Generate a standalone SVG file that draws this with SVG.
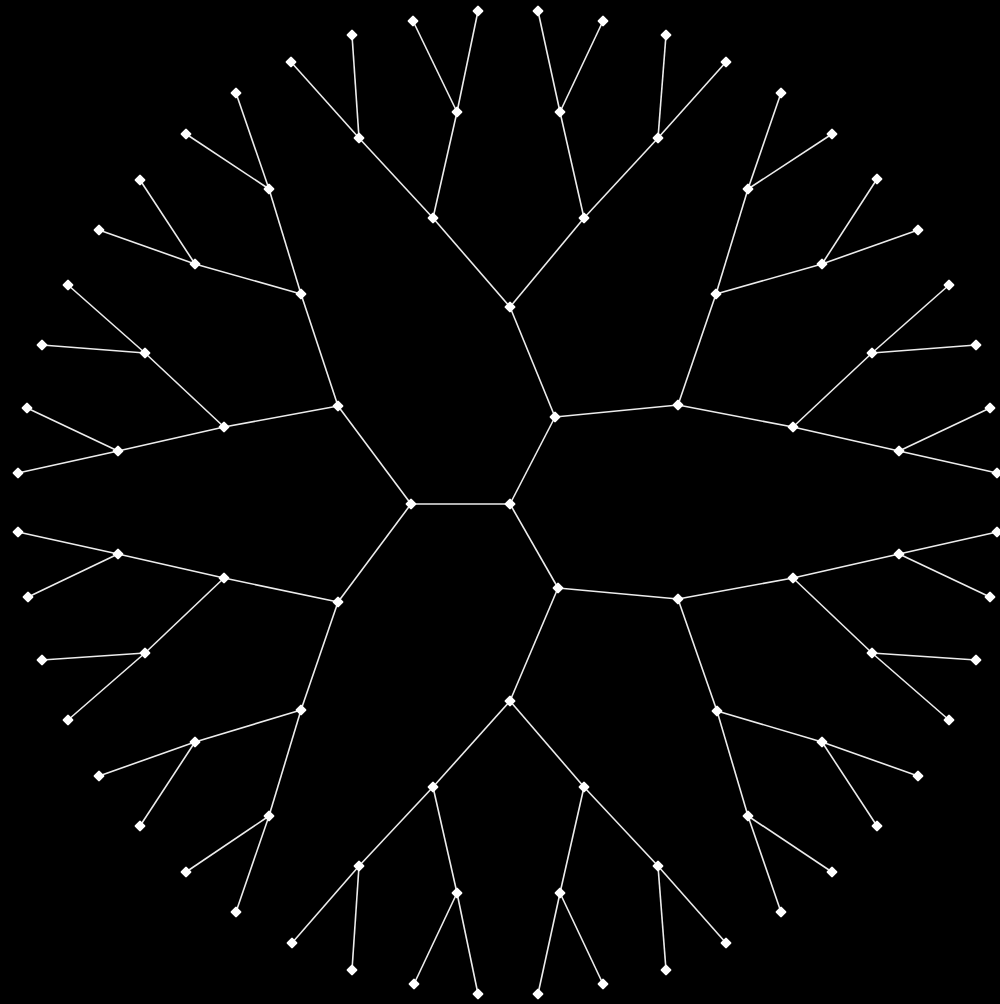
<svg xmlns="http://www.w3.org/2000/svg" xmlns:xlink="http://www.w3.org/1999/xlink" width="1000" height="1004" viewBox="0 0 1000 1004">
<style>
.e{stroke:#ececec;stroke-width:1.6;fill:none}
.d{fill:#fff;stroke:#fff;stroke-width:2.2;stroke-linejoin:round}
</style>
<defs>
<path id="d" class="d" d="M0,-4.3 L4.3,0 L0,4.3 L-4.3,0 Z"/>
</defs>
<rect width="1000" height="1004" fill="#000"/>
<g id="connectors">
<line class="e" x1="411" y1="504" x2="510" y2="504"/>
<line class="e" x1="510" y1="504" x2="555" y2="417"/>
<line class="e" x1="510" y1="504" x2="558" y2="588"/>
<line class="e" x1="411" y1="504" x2="338" y2="406"/>
<line class="e" x1="411" y1="504" x2="338" y2="602"/>
<line class="e" x1="555" y1="417" x2="510" y2="307"/>
<line class="e" x1="555" y1="417" x2="678" y2="405"/>
<line class="e" x1="558" y1="588" x2="510" y2="701"/>
<line class="e" x1="558" y1="588" x2="678" y2="599"/>
<line class="e" x1="338" y1="406" x2="301" y2="294"/>
<line class="e" x1="338" y1="406" x2="224" y2="427"/>
<line class="e" x1="338" y1="602" x2="301" y2="710"/>
<line class="e" x1="338" y1="602" x2="224" y2="578"/>
<line class="e" x1="510" y1="307" x2="433" y2="218"/>
<line class="e" x1="510" y1="307" x2="584" y2="218"/>
<line class="e" x1="678" y1="405" x2="716" y2="294"/>
<line class="e" x1="678" y1="405" x2="793" y2="427"/>
<line class="e" x1="510" y1="701" x2="433" y2="787"/>
<line class="e" x1="510" y1="701" x2="584" y2="787"/>
<line class="e" x1="678" y1="599" x2="717" y2="711"/>
<line class="e" x1="678" y1="599" x2="793" y2="578"/>
<line class="e" x1="301" y1="294" x2="269" y2="189"/>
<line class="e" x1="301" y1="294" x2="195" y2="264"/>
<line class="e" x1="224" y1="427" x2="145" y2="353"/>
<line class="e" x1="224" y1="427" x2="118" y2="451"/>
<line class="e" x1="301" y1="710" x2="269" y2="816"/>
<line class="e" x1="301" y1="710" x2="195" y2="742"/>
<line class="e" x1="224" y1="578" x2="145" y2="653"/>
<line class="e" x1="224" y1="578" x2="118" y2="554"/>
<line class="e" x1="269" y1="189" x2="236" y2="93"/>
<line class="e" x1="269" y1="189" x2="186" y2="134"/>
<line class="e" x1="195" y1="264" x2="140" y2="180"/>
<line class="e" x1="195" y1="264" x2="99" y2="230"/>
<line class="e" x1="145" y1="353" x2="68" y2="285"/>
<line class="e" x1="145" y1="353" x2="42" y2="345"/>
<line class="e" x1="118" y1="451" x2="27" y2="408"/>
<line class="e" x1="118" y1="451" x2="18" y2="473"/>
<line class="e" x1="269" y1="816" x2="236" y2="912"/>
<line class="e" x1="269" y1="816" x2="186" y2="872"/>
<line class="e" x1="195" y1="742" x2="140" y2="826"/>
<line class="e" x1="195" y1="742" x2="99" y2="776"/>
<line class="e" x1="145" y1="653" x2="68" y2="720"/>
<line class="e" x1="145" y1="653" x2="42" y2="660"/>
<line class="e" x1="118" y1="554" x2="28" y2="597"/>
<line class="e" x1="118" y1="554" x2="18" y2="532"/>
<line class="e" x1="433" y1="218" x2="359" y2="138"/>
<line class="e" x1="433" y1="218" x2="457" y2="112"/>
<line class="e" x1="584" y1="218" x2="560" y2="112"/>
<line class="e" x1="584" y1="218" x2="658" y2="138"/>
<line class="e" x1="716" y1="294" x2="748" y2="189"/>
<line class="e" x1="716" y1="294" x2="822" y2="264"/>
<line class="e" x1="793" y1="427" x2="872" y2="353"/>
<line class="e" x1="793" y1="427" x2="899" y2="451"/>
<line class="e" x1="433" y1="787" x2="359" y2="866"/>
<line class="e" x1="433" y1="787" x2="457" y2="893"/>
<line class="e" x1="584" y1="787" x2="560" y2="893"/>
<line class="e" x1="584" y1="787" x2="658" y2="866"/>
<line class="e" x1="717" y1="711" x2="748" y2="816"/>
<line class="e" x1="717" y1="711" x2="822" y2="742"/>
<line class="e" x1="793" y1="578" x2="872" y2="653"/>
<line class="e" x1="793" y1="578" x2="899" y2="554"/>
<line class="e" x1="359" y1="138" x2="291" y2="62"/>
<line class="e" x1="359" y1="138" x2="352" y2="35"/>
<line class="e" x1="457" y1="112" x2="413" y2="21"/>
<line class="e" x1="457" y1="112" x2="478" y2="11"/>
<line class="e" x1="560" y1="112" x2="538" y2="11"/>
<line class="e" x1="560" y1="112" x2="603" y2="21"/>
<line class="e" x1="658" y1="138" x2="666" y2="35"/>
<line class="e" x1="658" y1="138" x2="726" y2="62"/>
<line class="e" x1="748" y1="189" x2="781" y2="93"/>
<line class="e" x1="748" y1="189" x2="832" y2="134"/>
<line class="e" x1="822" y1="264" x2="877" y2="179"/>
<line class="e" x1="822" y1="264" x2="918" y2="230"/>
<line class="e" x1="872" y1="353" x2="949" y2="285"/>
<line class="e" x1="872" y1="353" x2="976" y2="345"/>
<line class="e" x1="899" y1="451" x2="990" y2="408"/>
<line class="e" x1="899" y1="451" x2="997" y2="473"/>
<line class="e" x1="359" y1="866" x2="292" y2="943"/>
<line class="e" x1="359" y1="866" x2="352" y2="970"/>
<line class="e" x1="457" y1="893" x2="414" y2="984"/>
<line class="e" x1="457" y1="893" x2="478" y2="994"/>
<line class="e" x1="560" y1="893" x2="538" y2="994"/>
<line class="e" x1="560" y1="893" x2="603" y2="984"/>
<line class="e" x1="658" y1="866" x2="666" y2="970"/>
<line class="e" x1="658" y1="866" x2="726" y2="943"/>
<line class="e" x1="748" y1="816" x2="781" y2="912"/>
<line class="e" x1="748" y1="816" x2="832" y2="872"/>
<line class="e" x1="822" y1="742" x2="877" y2="826"/>
<line class="e" x1="822" y1="742" x2="918" y2="776"/>
<line class="e" x1="872" y1="653" x2="949" y2="720"/>
<line class="e" x1="872" y1="653" x2="976" y2="660"/>
<line class="e" x1="899" y1="554" x2="990" y2="597"/>
<line class="e" x1="899" y1="554" x2="997" y2="532"/>
</g>
<g id="nodes">
<g id="n-a"><use href="#d" x="411" y="504"/></g>
<g id="n-b"><use href="#d" x="510" y="504"/></g>
<g id="n-b1"><use href="#d" x="555" y="417"/></g>
<g id="n-b2"><use href="#d" x="558" y="588"/></g>
<g id="n-a1"><use href="#d" x="338" y="406"/></g>
<g id="n-a2"><use href="#d" x="338" y="602"/></g>
<g id="n-b11"><use href="#d" x="510" y="307"/></g>
<g id="n-b12"><use href="#d" x="678" y="405"/></g>
<g id="n-b21"><use href="#d" x="510" y="701"/></g>
<g id="n-b22"><use href="#d" x="678" y="599"/></g>
<g id="n-a11"><use href="#d" x="301" y="294"/></g>
<g id="n-a12"><use href="#d" x="224" y="427"/></g>
<g id="n-a21"><use href="#d" x="301" y="710"/></g>
<g id="n-a22"><use href="#d" x="224" y="578"/></g>
<g id="n-b111"><use href="#d" x="433" y="218"/></g>
<g id="n-b112"><use href="#d" x="584" y="218"/></g>
<g id="n-b121"><use href="#d" x="716" y="294"/></g>
<g id="n-b122"><use href="#d" x="793" y="427"/></g>
<g id="n-b211"><use href="#d" x="433" y="787"/></g>
<g id="n-b212"><use href="#d" x="584" y="787"/></g>
<g id="n-b221"><use href="#d" x="717" y="711"/></g>
<g id="n-b222"><use href="#d" x="793" y="578"/></g>
<g id="n-a111"><use href="#d" x="269" y="189"/></g>
<g id="n-a112"><use href="#d" x="195" y="264"/></g>
<g id="n-a121"><use href="#d" x="145" y="353"/></g>
<g id="n-a122"><use href="#d" x="118" y="451"/></g>
<g id="n-a211"><use href="#d" x="269" y="816"/></g>
<g id="n-a212"><use href="#d" x="195" y="742"/></g>
<g id="n-a221"><use href="#d" x="145" y="653"/></g>
<g id="n-a222"><use href="#d" x="118" y="554"/></g>
<g id="n-a1111"><use href="#d" x="236" y="93"/></g>
<g id="n-a1112"><use href="#d" x="186" y="134"/></g>
<g id="n-a1121"><use href="#d" x="140" y="180"/></g>
<g id="n-a1122"><use href="#d" x="99" y="230"/></g>
<g id="n-a1211"><use href="#d" x="68" y="285"/></g>
<g id="n-a1212"><use href="#d" x="42" y="345"/></g>
<g id="n-a1221"><use href="#d" x="27" y="408"/></g>
<g id="n-a1222"><use href="#d" x="18" y="473"/></g>
<g id="n-a2111"><use href="#d" x="236" y="912"/></g>
<g id="n-a2112"><use href="#d" x="186" y="872"/></g>
<g id="n-a2121"><use href="#d" x="140" y="826"/></g>
<g id="n-a2122"><use href="#d" x="99" y="776"/></g>
<g id="n-a2211"><use href="#d" x="68" y="720"/></g>
<g id="n-a2212"><use href="#d" x="42" y="660"/></g>
<g id="n-a2221"><use href="#d" x="28" y="597"/></g>
<g id="n-a2222"><use href="#d" x="18" y="532"/></g>
<g id="n-b1111"><use href="#d" x="359" y="138"/></g>
<g id="n-b1112"><use href="#d" x="457" y="112"/></g>
<g id="n-b1121"><use href="#d" x="560" y="112"/></g>
<g id="n-b1122"><use href="#d" x="658" y="138"/></g>
<g id="n-b1211"><use href="#d" x="748" y="189"/></g>
<g id="n-b1212"><use href="#d" x="822" y="264"/></g>
<g id="n-b1221"><use href="#d" x="872" y="353"/></g>
<g id="n-b1222"><use href="#d" x="899" y="451"/></g>
<g id="n-b2111"><use href="#d" x="359" y="866"/></g>
<g id="n-b2112"><use href="#d" x="457" y="893"/></g>
<g id="n-b2121"><use href="#d" x="560" y="893"/></g>
<g id="n-b2122"><use href="#d" x="658" y="866"/></g>
<g id="n-b2211"><use href="#d" x="748" y="816"/></g>
<g id="n-b2212"><use href="#d" x="822" y="742"/></g>
<g id="n-b2221"><use href="#d" x="872" y="653"/></g>
<g id="n-b2222"><use href="#d" x="899" y="554"/></g>
<g id="n-l01"><use href="#d" x="291" y="62"/></g>
<g id="n-l02"><use href="#d" x="352" y="35"/></g>
<g id="n-l03"><use href="#d" x="413" y="21"/></g>
<g id="n-l04"><use href="#d" x="478" y="11"/></g>
<g id="n-l05"><use href="#d" x="538" y="11"/></g>
<g id="n-l06"><use href="#d" x="603" y="21"/></g>
<g id="n-l07"><use href="#d" x="666" y="35"/></g>
<g id="n-l08"><use href="#d" x="726" y="62"/></g>
<g id="n-l09"><use href="#d" x="781" y="93"/></g>
<g id="n-l10"><use href="#d" x="832" y="134"/></g>
<g id="n-l11"><use href="#d" x="877" y="179"/></g>
<g id="n-l12"><use href="#d" x="918" y="230"/></g>
<g id="n-l13"><use href="#d" x="949" y="285"/></g>
<g id="n-l14"><use href="#d" x="976" y="345"/></g>
<g id="n-l15"><use href="#d" x="990" y="408"/></g>
<g id="n-l16"><use href="#d" x="997" y="473"/></g>
<g id="n-l17"><use href="#d" x="292" y="943"/></g>
<g id="n-l18"><use href="#d" x="352" y="970"/></g>
<g id="n-l19"><use href="#d" x="414" y="984"/></g>
<g id="n-l20"><use href="#d" x="478" y="994"/></g>
<g id="n-l21"><use href="#d" x="538" y="994"/></g>
<g id="n-l22"><use href="#d" x="603" y="984"/></g>
<g id="n-l23"><use href="#d" x="666" y="970"/></g>
<g id="n-l24"><use href="#d" x="726" y="943"/></g>
<g id="n-l25"><use href="#d" x="781" y="912"/></g>
<g id="n-l26"><use href="#d" x="832" y="872"/></g>
<g id="n-l27"><use href="#d" x="877" y="826"/></g>
<g id="n-l28"><use href="#d" x="918" y="776"/></g>
<g id="n-l29"><use href="#d" x="949" y="720"/></g>
<g id="n-l30"><use href="#d" x="976" y="660"/></g>
<g id="n-l31"><use href="#d" x="990" y="597"/></g>
<g id="n-l32"><use href="#d" x="997" y="532"/></g>
</g>
</svg>
